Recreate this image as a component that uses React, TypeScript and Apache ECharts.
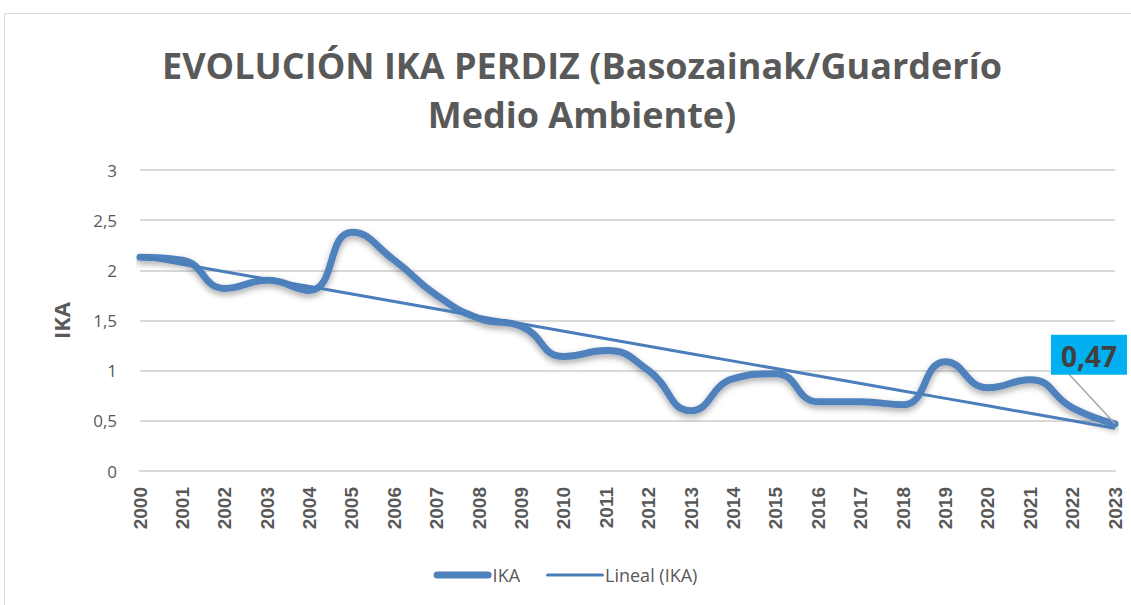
import React, { useEffect, useRef } from "react";
import * as echarts from "echarts";

const years = ["2000","2001","2002","2003","2004","2005","2006","2007","2008","2009","2010","2011","2012","2013","2014","2015","2016","2017","2018","2019","2020","2021","2022","2023"];
const ika = [2.13,2.10,1.82,1.90,1.80,2.38,2.10,1.75,1.52,1.44,1.14,1.20,1.00,0.60,0.92,0.97,0.69,0.69,0.66,1.09,0.83,0.91,0.63,0.47];
const yTicks = [0, 0.5, 1, 1.5, 2, 2.5, 3];
const titleText = "EVOLUCIÓN IKA PERDIZ (Basozainak/Guarderío\nMedio Ambiente)";
const seriesNames = ["IKA", "Lineal (IKA)"];

function linearTrend(v: number[]): number[] {
  const n = v.length;
  const xm = (n - 1) / 2;
  const ym = v.reduce((a, b) => a + b, 0) / n;
  let num = 0, den = 0;
  v.forEach((y, i) => { num += (i - xm) * (y - ym); den += (i - xm) * (i - xm); });
  const b = num / den;
  const a = ym - b * xm;
  return v.map((_, i) => +(a + b * i).toFixed(4));
}

const fmt = (v: number) => String(v).replace(".", ",");

export default function App() {
  const ref = useRef<HTMLDivElement>(null);
  useEffect(() => {
    document.body.style.margin = "0";
    const chart = echarts.init(ref.current!, null, { renderer: "svg" });
    const trend = linearTrend(ika);
    const lastIdx = ika.length - 1;
    chart.setOption({
      animation: false,
      backgroundColor: "#ffffff",
      graphic: [
        { type: "rect", shape: { x: 4.5, y: 13.5, width: 1200, height: 700 }, style: { fill: "none", stroke: "#d9d9d9", lineWidth: 1 }, z: -1 }
      ],
      title: {
        text: titleText,
        left: 577,
        textAlign: "center",
        top: 36,
        textStyle: { fontFamily: "'Open Sans', sans-serif", fontWeight: "bold", fontSize: 36, color: "#595959", lineHeight: 49 }
      },
      legend: {
        bottom: 16,
        left: "center",
        itemWidth: 58,
        itemHeight: 14,
        itemGap: 26,
        textStyle: { fontFamily: "'Open Sans', sans-serif", fontSize: 18, color: "#595959", padding: [0, 0, 0, -4] },
        data: [
          { name: seriesNames[0], icon: "path://M3.5,0L54.5,0A3.5,3.5,0,0,1,54.5,7L3.5,7A3.5,3.5,0,0,1,3.5,0Z" },
          { name: seriesNames[1], icon: "path://M1.5,0L56.5,0A1.5,1.5,0,0,1,56.5,3L1.5,3A1.5,1.5,0,0,1,1.5,0Z" }
        ]
      },
      grid: { left: 140, right: 16, top: 170, bottom: 134, containLabel: false },
      xAxis: {
        type: "category",
        data: years,
        boundaryGap: false,
        axisLine: { show: true, lineStyle: { color: "#d9d9d9", width: 2 } },
        axisTick: { show: false },
        axisLabel: { rotate: 90, fontFamily: "'Liberation Sans', Arial, sans-serif", fontWeight: "bold", fontSize: 19, color: "#595959", margin: 16, interval: 0 }
      },
      yAxis: {
        type: "value",
        min: 0,
        max: 3,
        interval: 0.5,
        name: "IKA",
        nameLocation: "middle",
        nameGap: 68,
        nameRotate: 90,
        nameTextStyle: { fontFamily: "'Open Sans', sans-serif", fontWeight: "bold", fontSize: 22, color: "#595959" },
        axisLine: { show: false },
        axisTick: { show: false },
        splitLine: { lineStyle: { color: "#d9d9d9", width: 2 } },
        axisLabel: {
          fontFamily: "'Open Sans', sans-serif", fontSize: 17, color: "#595959", margin: 23,
          formatter: (v: number) => (yTicks.includes(v) ? fmt(v) : "")
        }
      },
      series: [
        {
          name: seriesNames[1],
          type: "line",
          data: trend,
          showSymbol: false,
          symbol: "none",
          lineStyle: { color: "#4A7EBB", width: 3 },
          itemStyle: { color: "#4A7EBB" },
          z: 3
        },
        {
          name: seriesNames[0],
          type: "line",
          data: ika.map((v, i) => i === lastIdx ? {
            value: v,
            symbolSize: 0,
            label: {
              show: true,
              position: "top",
              formatter: (p: any) => fmt(p.value),
              backgroundColor: "#00B0F0",
              color: "#404040",
              fontFamily: "'Open Sans', sans-serif",
              fontWeight: "bold",
              fontSize: 28,
              padding: [7, 10, 5, 10]
            },
            labelLine: { show: true, lineStyle: { color: "#a6a6a6", width: 1.5 } }
          } : { value: v, symbolSize: 0 }),
          smooth: 0.5,
          showSymbol: true,
          symbol: "circle",
          symbolSize: 0,
          lineStyle: { color: "#4F81BD", width: 7, cap: "round", shadowColor: "rgba(0,0,0,0.35)", shadowBlur: 6, shadowOffsetY: 3 },
          itemStyle: { color: "#4F81BD" },
          labelLayout: (p: any) => p.dataIndex === lastIdx ? { dx: -26, dy: -44 } : {},
          z: 2
        }
      ]
    });
    return () => chart.dispose();
  }, []);
  return <div ref={ref} style={{ width: 1131, height: 605 }} />;
}
